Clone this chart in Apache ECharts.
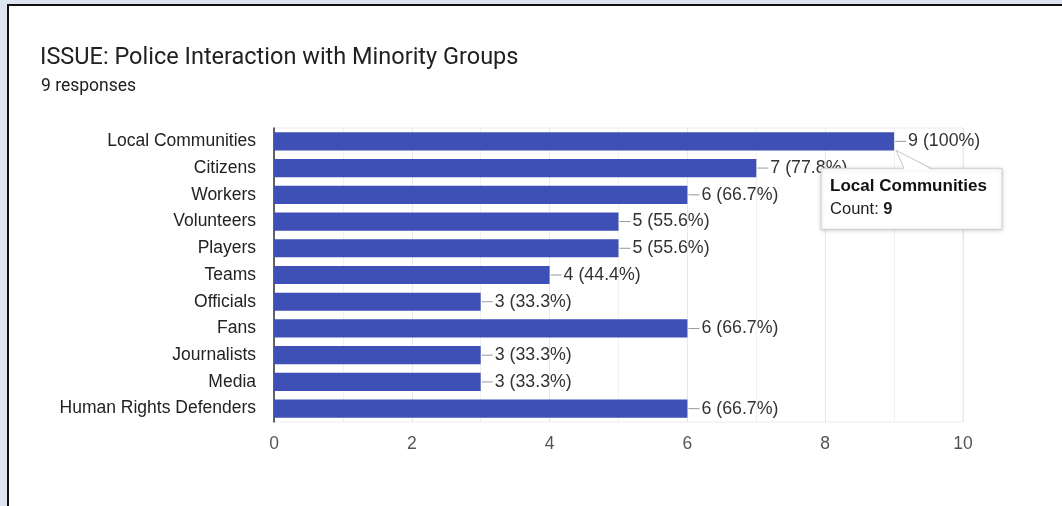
<!DOCTYPE html>
<html>
<head>
<meta charset="utf-8">
<script src="https://cdn.jsdelivr.net/npm/echarts@6/dist/echarts.min.js"></script>
<style>
  html, body { margin: 0; padding: 0; background: #dce5f0; width: 1062px; height: 506px; overflow: hidden; }
  #frame { position: absolute; left: 7px; top: 4px; right: 0; bottom: 0; background: #fff;
           border-top: 2px solid #111; border-left: 2px solid #111; }
  #chart { position: absolute; left: 0; top: 0; width: 1062px; height: 506px; }
</style>
</head>
<body>
<div id="frame"></div>
<div id="chart"></div>
<script>
// Survey question and response count
const titleText = 'ISSUE: Police Interaction with Minority Groups';
const totalResponses = 9;

// Answer options and how many respondents picked each
const categories = [
  'Local Communities', 'Citizens', 'Workers', 'Volunteers', 'Players', 'Teams',
  'Officials', 'Fans', 'Journalists', 'Media', 'Human Rights Defenders'
];
const counts = [9, 7, 6, 5, 5, 4, 3, 6, 3, 3, 6];

// Value axis range and step
const xMin = 0;
const xMax = 10;
const xStep = 2;

// Category whose hover card is shown
const highlighted = 'Local Communities';

const BAR = '#3e4fb5';
const FONT = '"Liberation Sans", Arial, sans-serif';

function pctText(v) {
  let p = (v / totalResponses * 100).toFixed(1);
  if (p.endsWith('.0')) p = p.slice(0, -2);
  return v + ' (' + p + '%)';
}

const chart = echarts.init(document.getElementById('chart'), null, { renderer: 'canvas' });

chart.setOption({
  animation: false,
  title: [
    { text: titleText, left: 35, top: 41, padding: 5,
      textStyle: { fontFamily: 'Roboto, sans-serif', fontSize: 23.5, fontWeight: 'normal', color: '#202124' } },
    { text: totalResponses + ' responses', left: 36, top: 73, padding: 5,
      textStyle: { fontFamily: 'Roboto, sans-serif', fontSize: 17.5, fontWeight: 'normal', color: '#202124' } }
  ],
  grid: {
    left: 274, right: 99, top: 128, bottom: 84,
    show: true, borderColor: '#ebebeb', borderWidth: 1, backgroundColor: 'transparent'
  },
  xAxis: {
    type: 'value', min: xMin, max: xMax, interval: xStep,
    axisLine: { show: false },
    axisTick: { show: false },
    axisLabel: { fontFamily: FONT, fontSize: 17.5, color: '#555', margin: 13 },
    splitLine: { show: true, lineStyle: { color: '#e8e8e8', width: 1 } },
    minorTick: { show: false, splitNumber: 2 },
    minorSplitLine: { show: true, lineStyle: { color: '#f0f0f0', width: 1 } }
  },
  yAxis: {
    type: 'category', data: categories, inverse: true,
    axisLine: { show: true, lineStyle: { color: '#333', width: 1.5 } },
    axisTick: { show: false },
    axisLabel: { fontFamily: FONT, fontSize: 17.5, color: '#222', margin: 18 },
    splitLine: { show: false }
  },
  series: [{
    type: 'bar',
    data: counts,
    barCategoryGap: '32%',
    itemStyle: { color: BAR },
    z: 3,
    label: {
      show: true, position: 'right', distance: 1,
      formatter: p => '{ln|}{t|' + pctText(p.value) + '}',
      rich: {
        ln: { width: 11, height: 1, backgroundColor: '#999' },
        t: { fontFamily: FONT, fontSize: 17.8, color: '#333', padding: [0, 0, 0, 2] }
      }
    }
  }]
});

// Hover card anchored to the highlighted bar's end
function drawCard() {
  const idx = categories.indexOf(highlighted);
  const v = counts[idx];
  const end = chart.convertToPixel({ seriesIndex: 0 }, [v, idx]);
  const ax = end[0] + 2, ay = end[1] + 9;
  const bx = end[0] - 73, by = end[1] + 27, bw = 181, bh = 61;
  chart.setOption({
    graphic: [
      { type: 'rect', z: 100, shape: { x: bx, y: by, width: bw, height: bh },
        style: { fill: '#fff', stroke: '#cfcfcf', lineWidth: 1,
                 shadowBlur: 4, shadowColor: 'rgba(0,0,0,0.18)', shadowOffsetY: 1 } },
      { type: 'polygon', z: 101, shape: { points: [[ax, ay], [bx + 83, by + 1.5], [bx + 110, by + 1.5]] },
        style: { fill: '#fff', stroke: null } },
      { type: 'polyline', z: 102, shape: { points: [[bx + 83, by], [ax, ay], [bx + 110, by]] },
        style: { fill: null, stroke: '#c4c4c4', lineWidth: 1 } },
      { type: 'text', z: 103, x: bx + 9, y: by + 9,
        style: { text: highlighted, fontFamily: FONT, fontSize: 17, fontWeight: 'bold', fill: '#111' } },
      { type: 'text', z: 103, x: bx + 9, y: by + 33,
        style: { text: '{a|Count: }{b|' + v + '}', fill: '#222',
                 rich: { a: { fontFamily: FONT, fontSize: 16.5, color: '#222' },
                         b: { fontFamily: FONT, fontSize: 16.5, fontWeight: 'bold', color: '#111' } } } }
    ]
  });
}
drawCard();
</script>
</body>
</html>
